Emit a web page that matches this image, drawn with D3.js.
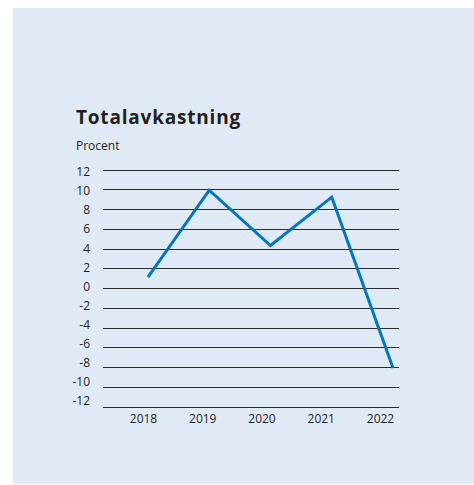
<!DOCTYPE html>
<html>
<head>
<meta charset="utf-8">
<script src="https://cdn.jsdelivr.net/npm/d3@7"></script>
<style>
  body { margin: 0; background: #fff; }
  text { font-family: "Open Sans", "DejaVu Sans", sans-serif; fill: #231f20; }
</style>
</head>
<body>
<div class="chart"></div>
<script>
// data
var years = ["2018", "2019", "2020", "2021", "2022"];
var returns = [1.1, 9.9, 4.3, 9.2, -8.1];
var yTicks = [12, 10, 8, 6, 4, 2, 0, -2, -4, -6, -8, -10, -12];

var svgWidth = 474;
var svgHeight = 485;

var svg = d3.select(".chart")
  .append("svg")
  .attr("width", svgWidth)
  .attr("height", svgHeight);

// background panel
svg.append("rect")
  .attr("x", 13)
  .attr("y", 8)
  .attr("width", svgWidth - 13)
  .attr("height", 476)
  .attr("fill", "#e0eaf6");

svg.append("text")
  .attr("x", 76)
  .attr("y", 123.5)
  .attr("font-size", "19px")
  .attr("font-weight", "bold")
  .attr("letter-spacing", "0.8px")
  .text("Totalavkastning");

svg.append("text")
  .attr("x", 76)
  .attr("y", 150)
  .attr("font-size", "12px")
  .text("Procent");

// scales
var yScale = d3.scaleLinear().domain([-12, 12]).range([406.5, 169.5]);
var yLabelScale = d3.scaleLinear().domain([-12, 12]).range([400.5, 172]);
var xScale = d3.scalePoint().domain(years).range([148, 393]);
var xLabelScale = d3.scalePoint().domain(years).range([143, 380]);

// grid lines
svg.append("g")
  .selectAll("line")
  .data(yTicks)
  .enter()
  .append("line")
  .attr("x1", 103)
  .attr("x2", 399)
  .attr("y1", d => Math.round(yScale(d)) + 0.5)
  .attr("y2", d => Math.round(yScale(d)) + 0.5)
  .attr("stroke", "#2b2b2b")
  .attr("stroke-width", 1.1);

// y labels
var leftAxis = d3.axisLeft(yLabelScale).tickValues(yTicks).tickSize(0).tickPadding(0)
  .tickFormat(d => d < 0 ? "-" + Math.abs(d) : d);
var yAxis = svg.append("g")
  .attr("transform", "translate(90,0)")
  .call(leftAxis);
yAxis.select(".domain").remove();
yAxis.selectAll("text")
  .attr("font-size", "12px")
  .attr("font-family", "Open Sans, DejaVu Sans, sans-serif")
  .attr("fill", "#231f20");

// x labels
var bottomAxis = d3.axisBottom(xLabelScale).tickSize(0).tickPadding(0);
var xAxis = svg.append("g")
  .attr("transform", "translate(0,414)")
  .call(bottomAxis);
xAxis.select(".domain").remove();
xAxis.selectAll("text")
  .attr("font-size", "12px")
  .attr("font-family", "Open Sans, DejaVu Sans, sans-serif")
  .attr("fill", "#231f20");

// line
var line = d3.line()
  .x((d, i) => xScale(years[i]))
  .y(d => yScale(d));

svg.append("path")
  .datum(returns)
  .attr("d", line)
  .attr("fill", "none")
  .attr("stroke", "#0077c1")
  .attr("stroke-width", 3);
</script>
</body>
</html>
